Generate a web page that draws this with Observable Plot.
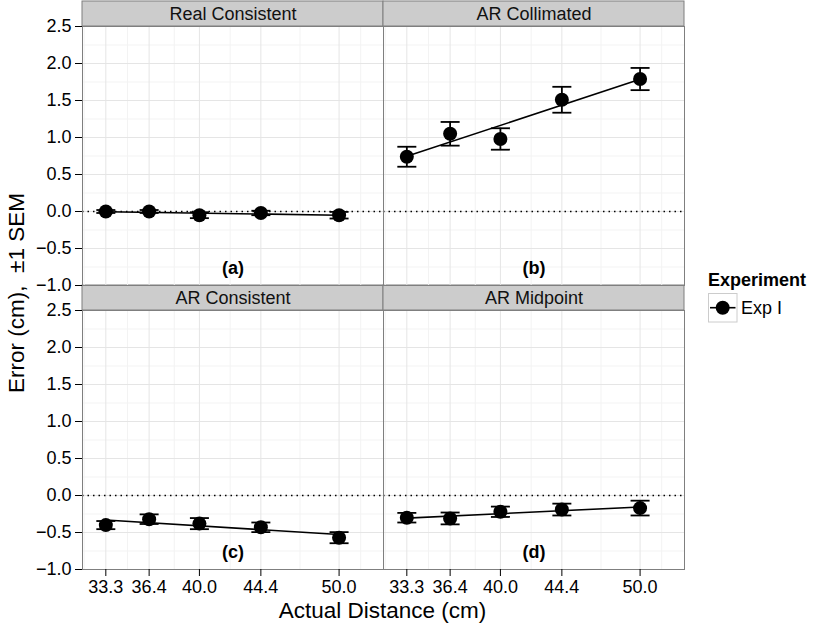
<!DOCTYPE html>
<html>
<head>
<meta charset="utf-8">
<script src="https://cdn.jsdelivr.net/npm/d3@7"></script>
<script src="https://cdn.jsdelivr.net/npm/@observablehq/plot@0.6"></script>
<style>
  body { margin: 0; background: white; }
  #chart { width: 830px; height: 623px; }
</style>
</head>
<body>
<div id="chart"></div>
<script>
// ---- data ----
const distances = [33.3, 36.4, 40.0, 44.4, 50.0];
const xMinor = [31.75, 34.85, 38.2, 42.2, 47.2, 51.55];
const yTicks = [-1.0, -0.5, 0.0, 0.5, 1.0, 1.5, 2.0, 2.5];
const yMinor = [-0.75, -0.25, 0.25, 0.75, 1.25, 1.75, 2.25];
const xDomain = [31.63, 53.18];
const yDomain = [-1.0, 2.5];

const panelNames = ["Real Consistent", "AR Collimated", "AR Consistent", "AR Midpoint"];
const panelTags = ["(a)", "(b)", "(c)", "(d)"];
const panelCols = ["L", "R", "L", "R"];
const panelRows = ["T", "T", "B", "B"];

const realConsistentMean = [0.00, 0.00, -0.05, -0.02, -0.05];
const realConsistentSem  = [0.02, 0.02, 0.04, 0.03, 0.045];
const arCollimatedMean   = [0.74, 1.05, 0.98, 1.51, 1.79];
const arCollimatedSem    = [0.135, 0.16, 0.145, 0.175, 0.15];
const arConsistentMean   = [-0.40, -0.32, -0.38, -0.43, -0.57];
const arConsistentSem    = [0.055, 0.065, 0.075, 0.065, 0.075];
const arMidpointMean     = [-0.30, -0.31, -0.22, -0.19, -0.17];
const arMidpointSem      = [0.065, 0.08, 0.07, 0.08, 0.10];

const experimentName = "Exp I";

// ---- build tables ----
const means = [realConsistentMean, arCollimatedMean, arConsistentMean, arMidpointMean];
const sems = [realConsistentSem, arCollimatedSem, arConsistentSem, arMidpointSem];
const panels = panelNames.map((name, p) => ({name, tag: panelTags[p], col: panelCols[p], row: panelRows[p]}));
const rows = [];
panels.forEach((pn, p) => {
  distances.forEach((d, i) => {
    rows.push({panel: pn.name, col: pn.col, row: pn.row, dist: d,
      mean: means[p][i], lo: means[p][i] - sems[p][i], hi: means[p][i] + sems[p][i]});
  });
});

// horizontal cap symbol for error bars
const capSymbol = {
  draw(ctx, size) {
    const w = Math.sqrt(size / Math.PI);
    ctx.moveTo(-w, 0);
    ctx.lineTo(w, 0);
  }
};

const font = "'Liberation Sans', Arial, Helvetica, sans-serif";

const svg = Plot.plot({
  width: 830,
  height: 623,
  marginLeft: 81,
  marginRight: 146,
  marginTop: 25,
  marginBottom: 53.7,
  style: {fontFamily: font, fontSize: "18px", background: "white", color: "black", overflow: "visible"},
  x: {domain: xDomain},
  y: {domain: yDomain},
  fx: {domain: ["L", "R"], padding: 0, axis: null},
  fy: {domain: ["T", "B"], paddingInner: 0.0875, paddingOuter: 0, axis: null},
  marks: [
    // strips
    Plot.rect(panels, {fx: "col", fy: "row",
      x1: () => xDomain[0], x2: () => xDomain[1],
      y1: () => yDomain[1], y2: () => yDomain[1],
      insetTop: -25, fill: "#cccccc", stroke: "#7f7f7f", strokeWidth: 1}),
    // grids
    Plot.gridY(yMinor, {stroke: "#f3f3f3", strokeOpacity: 1, strokeWidth: 1}),
    Plot.gridX(xMinor, {stroke: "#f3f3f3", strokeOpacity: 1, strokeWidth: 1}),
    Plot.gridY(yTicks, {stroke: "#e5e5e5", strokeOpacity: 1, strokeWidth: 1}),
    Plot.gridX(distances, {stroke: "#e5e5e5", strokeOpacity: 1, strokeWidth: 1}),
    // zero reference
    Plot.ruleY([0], {stroke: "black", strokeWidth: 1.5, strokeDasharray: "1.5,4"}),
    // error bars
    Plot.ruleX(rows, {fx: "col", fy: "row", x: "dist", y1: "lo", y2: "hi", stroke: "black", strokeWidth: 1.8}),
    Plot.dot(rows, {fx: "col", fy: "row", x: "dist", y: "hi", symbol: capSymbol, r: 9.5, stroke: "black", strokeWidth: 1.8, fill: "none"}),
    Plot.dot(rows, {fx: "col", fy: "row", x: "dist", y: "lo", symbol: capSymbol, r: 9.5, stroke: "black", strokeWidth: 1.8, fill: "none"}),
    // regression lines
    Plot.linearRegressionY(rows, {fx: "col", fy: "row", x: "dist", y: "mean", ci: 0, stroke: "black", strokeWidth: 1.6}),
    // points
    Plot.dot(rows, {fx: "col", fy: "row", x: "dist", y: "mean", r: 7, fill: "black", stroke: "none"}),
    // panel tags
    Plot.text(panels, {fx: "col", fy: "row", text: "tag", frameAnchor: "bottom", lineAnchor: "middle", dy: -17, fontSize: 18, fontWeight: "bold", fill: "black"}),
    // strip labels
    Plot.text(panels, {fx: "col", fy: "row", text: "name", frameAnchor: "top", lineAnchor: "middle", dy: -12.5, fontSize: 18, fill: "#111"}),
    // panel border
    Plot.frame({stroke: "#7f7f7f", strokeWidth: 1}),
    // axes
    Plot.axisY(yTicks, {tickFormat: d3.format(".1f"), tickSize: 7, tickPadding: 4, fontSize: 18, color: "black", label: null}),
    Plot.axisX(distances, {tickFormat: d3.format(".1f"), tickSize: 7, tickPadding: 4, fontSize: 18, color: "black", label: null})
  ]
});

document.getElementById("chart").appendChild(svg);

// axis titles and legend
const s = d3.select(svg);
s.append("text")
  .attr("transform", "translate(24,293) rotate(-90)")
  .attr("text-anchor", "middle")
  .attr("font-size", 22.5)
  .attr("fill", "black")
  .text("Error (cm),  \u00B11 SEM");
s.append("text")
  .attr("x", 382.5).attr("y", 618)
  .attr("text-anchor", "middle")
  .attr("font-size", 22.5)
  .attr("fill", "black")
  .text("Actual Distance (cm)");

const lg = s.append("g").attr("text-anchor", "start");
lg.append("text").attr("x", 708).attr("y", 286).attr("text-anchor", "start")
  .attr("font-size", 18).attr("font-weight", "bold").attr("fill", "black").text("Experiment");
lg.append("rect").attr("x", 708.5).attr("y", 293.5).attr("width", 28.5).attr("height", 28.5)
  .attr("fill", "white").attr("stroke", "#cccccc").attr("stroke-width", 1);
lg.append("line").attr("x1", 710).attr("x2", 735.5).attr("y1", 307.7).attr("y2", 307.7)
  .attr("stroke", "black").attr("stroke-width", 1.6);
lg.append("circle").attr("cx", 722.7).attr("cy", 307.7).attr("r", 7).attr("fill", "black");
lg.append("text").attr("x", 741).attr("y", 307.7).attr("dy", "0.35em").attr("text-anchor", "start")
  .attr("font-size", 18).attr("fill", "black").text(experimentName);
</script>
</body>
</html>
